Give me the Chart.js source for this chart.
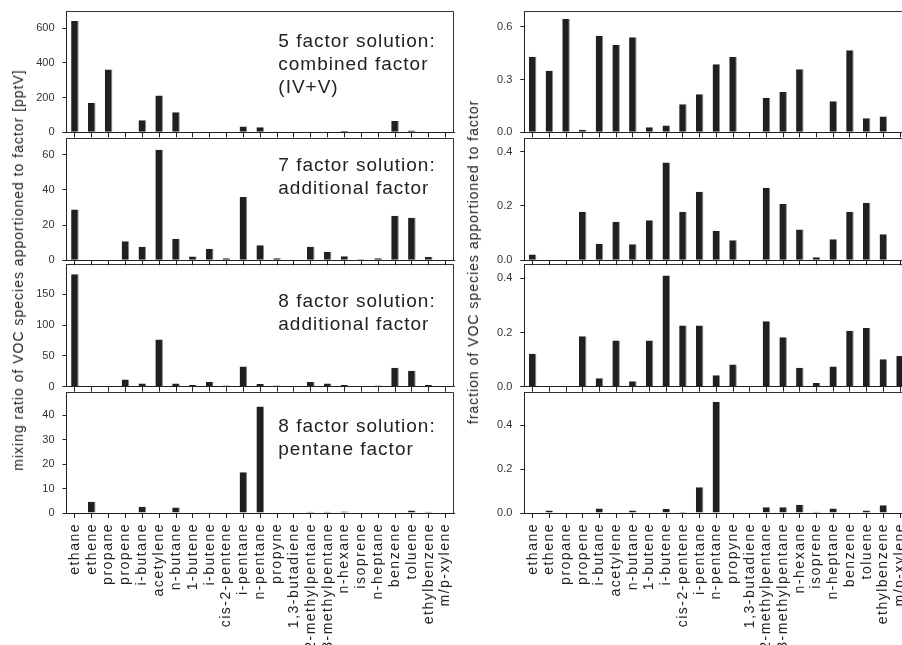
<!DOCTYPE html>
<html><head><meta charset="utf-8">
<script src="https://cdn.jsdelivr.net/npm/chart.js@4.4.0/dist/chart.umd.min.js"></script>
<style>
html,body{margin:0;padding:0;background:#fff;overflow:hidden;width:902px;height:645px;}
#wrap{position:relative;width:902px;height:645px;overflow:hidden;background:#fff;}
canvas{position:absolute;}
.yt{position:absolute;font-family:'Liberation Sans',Arial,sans-serif;font-size:14px;letter-spacing:1px;color:#222;white-space:nowrap;transform:translate(-50%,-50%) rotate(-90deg);}
</style></head><body><div id="wrap"></div>
<script>
// ---------- data ----------
const categories = ['ethane','ethene','propane','propene','i-butane','acetylene','n-butane','1-butene','i-butene','cis-2-pentene','i-pentane','n-pentane','propyne','1,3-butadiene','2-methylpentane','3-methylpentane','n-hexane','isoprene','n-heptane','benzene','toluene','ethylbenzene','m/p-xylene'];

const mix5Combined = [642,171,363,0,69,213,115,0,0,0,33,29,5,0,4,4,7,0,0,65,10,0,0];
const mix7Additional = [28.9,0,0,10.8,7.7,62.8,12.3,2.1,6.6,1.1,36.0,8.5,1.1,0,7.7,4.9,2.3,0.6,1.1,25.3,24.2,1.9,0];
const mix8Additional = [183,0,0,11.9,5.4,76.9,5.4,2.7,8.1,2,33,4.3,2,0,7.6,5.4,2.7,0,2,30.9,26,2.7,0];
const mix8Pentane = [0,4.6,0,0,2.6,0,2.3,0,0.3,0,16.7,43.6,0,0,0.5,0.5,0.6,0,0.1,0.2,1.0,0.5,0];

const frac5Combined = [0.430,0.350,0.644,0.015,0.549,0.497,0.541,0.029,0.038,0.160,0.217,0.387,0.429,0,0.196,0.229,0.358,0,0.177,0.467,0.080,0.090,0];
const frac7Additional = [0.021,0,0,0.179,0.061,0.142,0.059,0.147,0.360,0.179,0.252,0.108,0.074,0,0.267,0.207,0.113,0.011,0.077,0.179,0.212,0.096,0];
const frac8Additional = [0.122,0,0,0.186,0.031,0.171,0.020,0.171,0.411,0.226,0.226,0.042,0.082,0,0.242,0.183,0.070,0.014,0.075,0.207,0.217,0.101,0.113];
const frac8Pentane = [0,0.011,0,0,0.020,0,0.011,0,0.018,0.005,0.117,0.506,0,0,0.026,0.026,0.038,0.006,0.021,0,0.011,0.035,0];

const ticksMix5 = [0,200,400,600];
const ticksMix7 = [0,20,40,60];
const ticksMix8A = [0,50,100,150];
const ticksMix8P = [0,10,20,30,40];
const ticksFrac5 = [0,0.3,0.6];
const ticksFrac7 = [0,0.2,0.4];
const ticksFrac8A = [0,0.2,0.4];
const ticksFrac8P = [0,0.2,0.4];

const note5 = ['5 factor solution:','combined factor','(IV+V)'];
const note7 = ['7 factor solution:','additional factor'];
const note8A = ['8 factor solution:','additional factor'];
const note8P = ['8 factor solution:','pentane factor'];

const titleLeft = 'mixing ratio of VOC species apportioned to factor [pptV]';
const titleRight = 'fraction of VOC species apportioned to factor';

// ---------- layout ----------
const FONT = "'Liberation Sans', Arial, Helvetica, sans-serif";
const INK = '#231f20';
const rows = [
  {top:11,    bottom:132.3, noteBase:[47,69.8,92.6]},
  {top:137.7, bottom:260,   noteBase:[171,194]},
  {top:264,   bottom:386.7, noteBase:[306.5,329.5]},
  {top:391.7, bottom:512.7, noteBase:[431.5,454.5]}
];
const cols = [
  {left:0,   width:460, yW:66.5, right:454},
  {left:460, width:460, yW:64.3, right:908.4}
];

const panels = [
  {col:0,row:0,data:mix5Combined,ticks:ticksMix5,max:700,dec:0,note:note5},
  {col:0,row:1,data:mix7Additional,ticks:ticksMix7,max:69.5,dec:0,note:note7},
  {col:0,row:2,data:mix8Additional,ticks:ticksMix8A,max:199.5,dec:0,note:note8A},
  {col:0,row:3,data:mix8Pentane,ticks:ticksMix8P,max:49.5,dec:0,note:note8P},
  {col:1,row:0,data:frac5Combined,ticks:ticksFrac5,max:0.69,dec:1},
  {col:1,row:1,data:frac7Additional,ticks:ticksFrac7,max:0.45,dec:1},
  {col:1,row:2,data:frac8Additional,ticks:ticksFrac8A,max:0.453,dec:1},
  {col:1,row:3,data:frac8Pentane,ticks:ticksFrac8P,max:0.552,dec:1}
];

Chart.defaults.font.family = FONT;
// letter spacing for category (x) labels
const origDL = Chart.CategoryScale.prototype.drawLabels;
Chart.CategoryScale.prototype.drawLabels = function(area){
  const c = this.ctx; c.save(); try{ c.letterSpacing = '1.5px'; }catch(e){}
  origDL.call(this, area); c.restore();
};

function zeroPad(s){ s.paddingTop = 0; s.paddingBottom = 0; s.paddingLeft = 0; s.paddingRight = 0; }

const framePlugin = {
  id:'frame',
  afterDraw(chart){
    const a = chart.chartArea, c = chart.ctx;
    c.save(); c.strokeStyle = '#333'; c.lineWidth = 1;
    const t = Math.round(a.top)+0.5, r = Math.round(a.right)-0.5;
    c.beginPath(); c.moveTo(a.left, t); c.lineTo(r, t); c.lineTo(r, a.bottom); c.stroke();
    c.restore();
  }
};

const wrap = document.getElementById('wrap');
panels.forEach(p => {
  const col = cols[p.col], row = rows[p.row];
  const isBottom = p.row === 3;
  const padTop = 4;
  const xH = isBottom ? 140 : 6;
  const hExact = padTop + (row.bottom - row.top) + xH;
  const h = Math.ceil(hExact);
  const cv = document.createElement('canvas');
  cv.width = col.width; cv.height = h;
  cv.style.left = col.left + 'px'; cv.style.top = (row.top - padTop) + 'px';
  cv.style.width = col.width + 'px'; cv.style.height = h + 'px';
  wrap.appendChild(cv);
  const canvasTop = row.top - padTop;
  const notePlugin = {
    id:'note',
    afterDatasetsDraw(chart){
      if(!p.note) return;
      const c = chart.ctx; c.save();
      try{ c.letterSpacing = '1px'; }catch(e){}
      c.font = '19px ' + FONT; c.fillStyle = '#222'; c.textAlign = 'left'; c.textBaseline = 'alphabetic';
      p.note.forEach((line,i) => c.fillText(line, 278.3 - col.left, row.noteBase[i] - canvasTop));
      c.restore();
    }
  };
  new Chart(cv, {
    type:'bar',
    data:{labels:categories, datasets:[{
      data:p.data, backgroundColor:INK, borderColor:'#8a8a8a',
      borderWidth:{top:0,left:0,bottom:0,right:1}, borderSkipped:false,
      barPercentage:0.45, categoryPercentage:1
    }]},
    options:{
      responsive:false, animation:false, devicePixelRatio:1,
      layout:{autoPadding:false, padding:{top:padTop, left:0, right:col.width - col.right + col.left, bottom:h - hExact}},
      plugins:{legend:{display:false}, tooltip:{enabled:false}, title:{display:false}},
      scales:{
        x:{
          type:'category', offset:true,
          afterFit(s){ s.height = xH; zeroPad(s); },
          grid:{offset:false, drawOnChartArea:false, drawTicks:true, tickLength:5, color:'#222', lineWidth:1},
          border:{display:true, color:'#222', width:1},
          ticks:{display:isBottom, autoSkip:false, maxRotation:90, minRotation:90, padding:5,
                 font:{family:FONT, size:14}, color:'#222'}
        },
        y:{
          min:0, max:p.max,
          afterBuildTicks(s){ s.ticks = p.ticks.map(v => ({value:v})); },
          afterFit(s){ s.width = col.yW; zeroPad(s); },
          grid:{drawOnChartArea:false, drawTicks:true, tickLength:4, color:'#222', lineWidth:1},
          border:{display:true, color:'#222', width:1},
          ticks:{font:{family:FONT, size:11}, color:'#333', padding:8,
                 callback:(v) => Number(v).toFixed(p.dec)}
        }
      }
    },
    plugins:[framePlugin, notePlugin]
  });
});

function addTitle(text, cx, cy){
  const d = document.createElement('div');
  d.className = 'yt'; d.textContent = text;
  d.style.left = cx + 'px'; d.style.top = cy + 'px';
  wrap.appendChild(d);
}
addTitle(titleLeft, 18, 270);
addTitle(titleRight, 473, 262);
</script>
</body></html>
